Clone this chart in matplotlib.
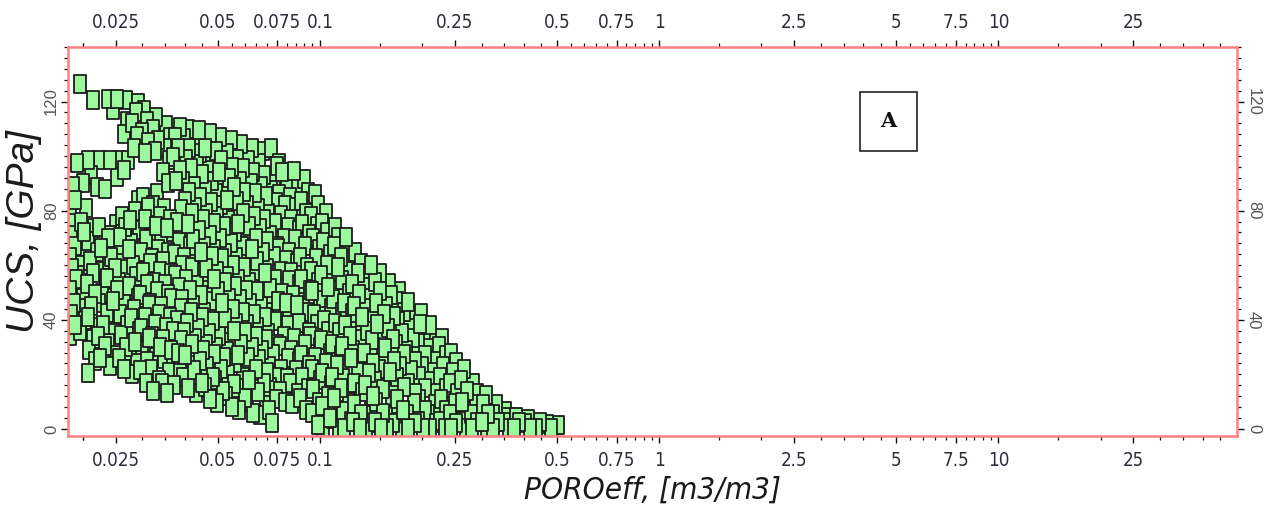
import numpy as np
import matplotlib
matplotlib.use("Agg")
import matplotlib.pyplot as plt
from matplotlib.path import Path
from matplotlib.patches import Rectangle
from matplotlib import font_manager as fm
from matplotlib.ticker import FixedLocator, NullFormatter, MultipleLocator

# ---------------- data ----------------
poro_left = [
    0.0184, 0.0190, 0.0185, 0.0188, 0.0183, 0.0191, 0.0186, 0.0184, 0.0190, 0.0185, 0.0188, 0.0184, 0.0190, 0.0187, 0.0193,
    0.0197, 0.0203, 0.0195, 0.0201, 0.0206, 0.0194, 0.0199, 0.0205, 0.0196, 0.0202, 0.0198, 0.0204, 0.0200, 0.0208, 0.0197,
    0.0207, 0.0218, 0.0209, 0.0214, 0.0220, 0.0207, 0.0212, 0.0218, 0.0206, 0.0215, 0.0210, 0.0220, 0.0208, 0.0216, 0.0221, 0.0211, 0.0225, 0.0214,
    0.0225, 0.0233, 0.0222, 0.0230, 0.0236, 0.0223, 0.0228, 0.0235, 0.0221, 0.0231, 0.0226, 0.0237, 0.0224, 0.0232, 0.0240, 0.0237,
    0.0241, 0.0251, 0.0238, 0.0247, 0.0254, 0.0239, 0.0245, 0.0252, 0.0236, 0.0249, 0.0243, 0.0255, 0.0240, 0.0250, 0.0252, 0.0256, 0.0246, 0.0253,
    0.0265, 0.0256, 0.0268, 0.0260, 0.0271, 0.0257, 0.0264, 0.0272, 0.0255, 0.0267, 0.0261, 0.0273, 0.0258, 0.0266, 0.0262, 0.0265, 0.0272, 0.0265, 0.0270, 0.0268,
    0.0279, 0.0290, 0.0276, 0.0286, 0.0293, 0.0277, 0.0283, 0.0291, 0.0274, 0.0288, 0.0281, 0.0294, 0.0278, 0.0289, 0.0275, 0.0285, 0.0292, 0.0284, 0.0290, 0.0280, 0.0288, 0.0292,
    0.0307, 0.0296, 0.0310, 0.0300, 0.0314, 0.0297, 0.0305, 0.0313, 0.0295, 0.0309, 0.0302, 0.0315, 0.0298, 0.0308, 0.0294, 0.0306, 0.0312, 0.0301, 0.0305, 0.0312, 0.0300, 0.0309, 0.0303,
    0.0322, 0.0335, 0.0318, 0.0330, 0.0338, 0.0320, 0.0327, 0.0336, 0.0316, 0.0332, 0.0324, 0.0339, 0.0321, 0.0333, 0.0317, 0.0329, 0.0337, 0.0323, 0.0331, 0.0326, 0.0334, 0.0322, 0.0330,
    0.0355, 0.0343, 0.0360, 0.0348, 0.0363, 0.0345, 0.0353, 0.0362, 0.0341, 0.0357, 0.0349, 0.0364, 0.0346, 0.0358, 0.0340, 0.0354, 0.0361, 0.0347, 0.0356, 0.0344, 0.0359, 0.0350, 0.0362, 0.0352,
    0.0372, 0.0388, 0.0368, 0.0382, 0.0391, 0.0370, 0.0379, 0.0389, 0.0365, 0.0384, 0.0375, 0.0392, 0.0371, 0.0385, 0.0366, 0.0380, 0.0390, 0.0376, 0.0386, 0.0369, 0.0383, 0.0374, 0.0388,
    0.0410, 0.0396, 0.0416, 0.0401, 0.0420, 0.0398, 0.0407, 0.0418, 0.0393, 0.0413, 0.0403, 0.0421, 0.0399, 0.0414, 0.0392, 0.0408, 0.0419, 0.0400, 0.0412, 0.0395, 0.0417, 0.0404, 0.0411, 0.0397, 0.0409,
]
ucs_left = [
    34, 38, 42, 46, 51, 55, 59, 63, 67, 71, 75.5, 80, 84, 89, 97.5,
    36, 40, 44.5, 48, 52, 56.5, 60, 64, 68, 72, 76, 81, 90, 98.5, 126.5,
    20.5, 25, 29, 33, 37.5, 41, 45, 49.5, 53, 57, 61.5, 65, 69, 73.5, 88.5, 93, 98.5, 120.5,
    26, 30.5, 34, 38, 42.5, 46, 50, 54.5, 58, 62, 66.5, 70, 74, 88, 98.5, 121,
    23, 27, 31.5, 35, 39, 43.5, 47, 51, 55.5, 59, 63, 67.5, 71, 75, 92.5, 98.5, 117, 121,
    22, 26, 30, 34.5, 38, 42, 46.5, 50, 54, 58.5, 62, 66, 70.5, 74, 78, 95, 98.5, 108, 113, 120.5,
    20, 24, 28.5, 32, 36, 40.5, 44, 48, 52.5, 56, 60, 64.5, 68, 72, 76.5, 80, 84, 103, 107.5, 112, 116, 119.5,
    17, 21.5, 25, 29, 33.5, 37, 41, 45.5, 49, 53, 57.5, 61, 65, 69.5, 73, 77, 81.5, 85, 101, 105, 109, 113, 117,
    14, 18, 22, 26.5, 30, 34, 38.5, 42, 46, 50.5, 54, 58, 62.5, 66, 70, 74.5, 78, 82, 86.5, 102, 106, 110, 114.5,
    13, 17, 21, 25.5, 29, 33, 37.5, 41, 45, 49.5, 53, 57, 61.5, 65, 69, 73.5, 77, 81, 90, 94, 98.5, 103, 107, 111.5,
    16, 20.5, 24, 28, 32.5, 36, 40, 44.5, 48, 52, 56.5, 60, 64, 68.5, 72, 76, 80.5, 91, 95, 99.5, 103, 107, 110.5,
    15, 19, 23.5, 27, 31, 35.5, 39, 43, 47.5, 51, 55, 59.5, 63, 67, 71.5, 75, 79, 83.5, 87, 91, 95.5, 99, 103, 106.5, 110,
]

poro_mid = [
    0.0431, 0.0449, 0.0426, 0.0442, 0.0452, 0.0428, 0.0438, 0.0450, 0.0423, 0.0445, 0.0434, 0.0454, 0.0429, 0.0446, 0.0422, 0.0440, 0.0451, 0.0430, 0.0444, 0.0425, 0.0448, 0.0435, 0.0443, 0.0427, 0.0440,
    0.0476, 0.0458, 0.0483, 0.0465, 0.0487, 0.0461, 0.0472, 0.0485, 0.0456, 0.0479, 0.0467, 0.0489, 0.0462, 0.0480, 0.0455, 0.0474, 0.0486, 0.0463, 0.0478, 0.0459, 0.0482, 0.0469, 0.0477, 0.0460, 0.0473,
    0.0498, 0.0518, 0.0492, 0.0511, 0.0523, 0.0495, 0.0506, 0.0520, 0.0490, 0.0514, 0.0502, 0.0525, 0.0496, 0.0515, 0.0489, 0.0509, 0.0521, 0.0497, 0.0513, 0.0493, 0.0517, 0.0503, 0.0512, 0.0494, 0.0507,
    0.0550, 0.0530, 0.0557, 0.0537, 0.0562, 0.0533, 0.0545, 0.0560, 0.0527, 0.0553, 0.0540, 0.0564, 0.0534, 0.0554, 0.0526, 0.0548, 0.0561, 0.0535, 0.0552, 0.0531, 0.0558, 0.0541, 0.0551, 0.0532, 0.0546,
    0.0576, 0.0600, 0.0570, 0.0592, 0.0605, 0.0572, 0.0585, 0.0602, 0.0566, 0.0595, 0.0580, 0.0607, 0.0574, 0.0596, 0.0565, 0.0589, 0.0603, 0.0575, 0.0593, 0.0569, 0.0599, 0.0582, 0.0594, 0.0571, 0.0586,
    0.0636, 0.0612, 0.0644, 0.0620, 0.0650, 0.0615, 0.0630, 0.0647, 0.0608, 0.0640, 0.0623, 0.0652, 0.0617, 0.0641, 0.0607, 0.0633, 0.0648, 0.0618, 0.0638, 0.0612, 0.0645, 0.0625, 0.0637, 0.0614, 0.0629,
    0.0665, 0.0693, 0.0657, 0.0683, 0.0698, 0.0660, 0.0676, 0.0695, 0.0653, 0.0687, 0.0669, 0.0701, 0.0663, 0.0688, 0.0652, 0.0680, 0.0697, 0.0664, 0.0685, 0.0658, 0.0694, 0.0672, 0.0686, 0.0661, 0.0679,
    0.0722, 0.0708, 0.0745, 0.0715, 0.0750, 0.0707, 0.0727, 0.0748, 0.0702, 0.0738, 0.0718, 0.0753, 0.0711, 0.0740, 0.0700, 0.0731, 0.0749, 0.0713, 0.0736, 0.0705, 0.0744, 0.0720, 0.0735, 0.0747, 0.0717,
    0.0789, 0.0761, 0.0800, 0.0770, 0.0806, 0.0764, 0.0782, 0.0803, 0.0756, 0.0793, 0.0774, 0.0809, 0.0766, 0.0794, 0.0754, 0.0785, 0.0804, 0.0768, 0.0791, 0.0760, 0.0798, 0.0776, 0.0757,
    0.0826, 0.0865, 0.0817, 0.0853, 0.0870, 0.0820, 0.0840, 0.0866, 0.0812, 0.0856, 0.0832, 0.0871, 0.0823, 0.0855, 0.0810, 0.0845, 0.0868, 0.0824, 0.0851, 0.0816, 0.0860, 0.0838,
    0.0910, 0.0876, 0.0925, 0.0884, 0.0932, 0.0879, 0.0903, 0.0928, 0.0870, 0.0915, 0.0891, 0.0935, 0.0881, 0.0917, 0.0872, 0.0906, 0.0930, 0.0886, 0.0913, 0.0877, 0.0921, 0.0895,
    0.0985, 0.0950, 0.0995, 0.0957, 0.1000, 0.0945, 0.0970, 0.0998, 0.0938, 0.0984, 0.0960, 0.1003, 0.0948, 0.0987, 0.0940, 0.0975, 0.0996, 0.0953, 0.0981, 0.0943, 0.0990, 0.0966,
]
ucs_mid = [
    13, 17, 21.5, 25, 29, 33.5, 37, 41, 45.5, 49, 53, 57.5, 61, 65, 69.5, 73, 77, 81.5, 85, 89, 93.5, 97, 101, 105, 109.5,
    11, 15.5, 19, 23, 27.5, 31, 35, 39.5, 43, 47, 51.5, 55, 59, 63.5, 67, 71, 75.5, 79, 83, 87.5, 91, 95, 99.5, 103, 108.5,
    9.5, 14, 18, 22, 26.5, 30, 34, 38.5, 42, 46, 50.5, 54, 58, 62.5, 66, 70, 74.5, 78, 82, 86.5, 90, 94, 98.5, 102, 107,
    8, 12, 16.5, 20, 24, 28.5, 32, 36, 40.5, 44, 48, 52.5, 56, 60, 64.5, 68, 72, 76.5, 80, 84, 88.5, 92, 96, 101, 106,
    7, 11.5, 15, 19, 23.5, 27, 31, 35.5, 39, 43, 47.5, 51, 55, 59.5, 63, 67, 71.5, 75, 79, 83.5, 87, 91, 95.5, 99, 104.5,
    6, 10, 14.5, 18, 22, 26.5, 30, 34, 38.5, 42, 46, 50.5, 54, 58, 62.5, 66, 70, 74.5, 78, 82, 86.5, 90, 94, 98.5, 103,
    5, 9, 13.5, 17, 21, 25.5, 29, 33, 37.5, 41, 45, 49.5, 53, 57, 61.5, 65, 69, 73.5, 77, 81, 85.5, 89, 93, 97.5, 102,
    2, 7, 11, 15.5, 19, 23, 27.5, 31, 35, 39.5, 43, 47, 51.5, 55, 59, 63.5, 67, 71, 75.5, 79, 83, 87.5, 91, 96.5, 103,
    10, 14, 18.5, 22, 26, 30.5, 34, 38, 42.5, 46, 50, 54.5, 58, 62, 66.5, 70, 74, 78.5, 82, 86, 90.5, 94, 97.5,
    9, 13, 17, 21.5, 25, 29, 33.5, 37, 41, 45.5, 49, 53, 57.5, 61, 65, 69.5, 73, 77, 81.5, 85, 89, 94.5,
    7, 11.5, 15, 19, 23.5, 27, 31, 35.5, 39, 43, 47.5, 51, 55, 59.5, 63, 67, 71.5, 75, 79, 83.5, 87, 91.5,
    1.5, 6, 10, 14.5, 18, 22, 26.5, 30, 34, 38.5, 42, 46, 50.5, 54, 58, 62.5, 66, 70, 74.5, 78, 82, 86,
]

poro_right = [
    0.1025, 0.1068, 0.1012, 0.1055, 0.1075, 0.1018, 0.1042, 0.1072, 0.1008, 0.1060, 0.1032, 0.1078, 0.1020, 0.1058, 0.1005, 0.1048, 0.1070, 0.1022, 0.1052, 0.1015, 0.1045,
    0.1140, 0.1092, 0.1150, 0.1100, 0.1158, 0.1088, 0.1125, 0.1155, 0.1085, 0.1142, 0.1108, 0.1160, 0.1095, 0.1135, 0.1083, 0.1128, 0.1152, 0.1098, 0.1132, 0.1105,
    0.1180, 0.1235, 0.1168, 0.1222, 0.1240, 0.1172, 0.1205, 0.1238, 0.1162, 0.1226, 0.1188, 0.1243, 0.1175, 0.1215, 0.1160, 0.1208, 0.1232, 0.1178, 0.1195,
    0.1310, 0.1255, 0.1325, 0.1265, 0.1332, 0.1258, 0.1295, 0.1328, 0.1250, 0.1315, 0.1275, 0.1335, 0.1262, 0.1305, 0.1248, 0.1298, 0.1322, 0.1270,
    0.1365, 0.1430, 0.1355, 0.1418, 0.1438, 0.1360, 0.1395, 0.1432, 0.1348, 0.1420, 0.1378, 0.1440, 0.1358, 0.1405, 0.1345, 0.1398, 0.1415,
    0.1515, 0.1455, 0.1532, 0.1465, 0.1540, 0.1458, 0.1498, 0.1535, 0.1448, 0.1520, 0.1475, 0.1543, 0.1462, 0.1508, 0.1452, 0.1500,
    0.1575, 0.1648, 0.1563, 0.1632, 0.1655, 0.1568, 0.1605, 0.1650, 0.1555, 0.1638, 0.1590, 0.1658, 0.1572, 0.1618, 0.1595,
    0.1745, 0.1680, 0.1762, 0.1690, 0.1770, 0.1683, 0.1725, 0.1765, 0.1672, 0.1750, 0.1700, 0.1775, 0.1688, 0.1712,
    0.1820, 0.1905, 0.1808, 0.1890, 0.1912, 0.1815, 0.1858, 0.1908, 0.1800, 0.1885, 0.1835, 0.1895, 0.1825,
    0.2020, 0.1950, 0.2040, 0.1960, 0.2048, 0.1955, 0.1995, 0.2042, 0.1942, 0.2025, 0.1972, 0.1985,
    0.2105, 0.2195, 0.2090, 0.2180, 0.2200, 0.2098, 0.2145, 0.2190, 0.2085, 0.2170, 0.2110,
    0.2335, 0.2255, 0.2350, 0.2268, 0.2360, 0.2262, 0.2305, 0.2355, 0.2250, 0.2290,
    0.2430, 0.2525, 0.2415, 0.2505, 0.2535, 0.2420, 0.2470, 0.2520, 0.2440,
    0.2690, 0.2605, 0.2710, 0.2620, 0.2715, 0.2612, 0.2655,
    0.2805, 0.2900, 0.2790, 0.2885, 0.2910, 0.2820,
    0.3110, 0.3010, 0.3120, 0.3025, 0.3080,
    0.3240, 0.3345, 0.3230, 0.3300,
    0.3600, 0.3485, 0.3590, 0.3520,
    0.3740, 0.3865, 0.3790,
    0.4150, 0.4030, 0.4120,
    0.4330, 0.4470,
    0.4800, 0.4660,
    0.5050,
]
ucs_right = [
    0.5, 4, 8.5, 12, 16, 20.5, 24, 28, 32.5, 36, 40, 44.5, 48, 52, 56.5, 60, 64, 68.5, 72, 75.5, 79,
    0.5, 3.5, 7, 11.5, 15, 19, 23.5, 27, 31, 35.5, 39, 43, 47.5, 51, 55, 59.5, 63, 67, 70.5, 74,
    0.5, 3, 6.5, 10, 14, 18.5, 22, 26, 30.5, 34, 38, 42.5, 46, 50, 54.5, 58, 62, 66.5, 70.5,
    0.5, 2.5, 5.5, 9, 13.5, 17, 21, 25.5, 29, 33, 37.5, 41, 45, 49.5, 53, 57, 61, 65,
    0.5, 2, 5, 8.5, 12, 16, 20.5, 24, 28, 32.5, 36, 40, 44.5, 48, 52, 56, 60,
    0.5, 2.5, 6, 10, 14.5, 18, 22, 26.5, 30, 34, 38.5, 42, 46, 50.5, 54, 57,
    0.5, 2, 5, 9, 13, 17.5, 21, 25, 29.5, 33, 37, 41.5, 45, 49, 53.5,
    0.5, 3, 7, 11, 15.5, 19, 23, 27.5, 31, 35, 39.5, 43, 47, 50.5,
    0.5, 2, 5.5, 9.5, 13, 17, 21.5, 25, 29, 33.5, 37, 41, 46.5,
    0.5, 3, 7, 11, 15, 19.5, 23, 27, 31.5, 35, 38.5, 42.5,
    0.5, 2, 5.5, 9, 13, 17.5, 21, 25, 29.5, 33, 38,
    0.5, 3, 7, 11, 15, 19, 23, 27, 30.5, 33.5,
    0.5, 2, 5.5, 9.5, 13, 17, 21, 24.5, 28,
    0.5, 3, 6.5, 10, 14, 18, 22,
    0.5, 2.5, 5.5, 9, 13, 17,
    0.5, 2.5, 5.5, 9, 12.5,
    0.5, 2.5, 5.5, 9,
    0.5, 2.5, 4.5, 6.5,
    0.5, 2.5, 4.5,
    0.5, 2, 3.5,
    0.5, 2.5,
    0.5, 1.8,
    1.3,
]

x_major = [0.025, 0.05, 0.075, 0.1, 0.25, 0.5, 0.75, 1, 2.5, 5, 7.5, 10, 25]
x_major_labels = ["0.025", "0.05", "0.075", "0.1", "0.25", "0.5", "0.75", "1",
                  "2.5", "5", "7.5", "10", "25"]
x_minor_factors = [1.5, 2, 3, 3.5, 4, 4.5, 5.5, 6, 6.5, 7, 8, 8.5, 9, 9.5]
x_decades = [0.01, 0.1, 1, 10]
y_major = [0, 40, 80, 120]
y_major_labels = ["0", "40", "80", "120"]

# ---------------- fonts ----------------
names = {f.name for f in fm.fontManager.ttflist}
if "Liberation Sans Narrow" in names:
    narrow = dict(family="Liberation Sans Narrow")
else:
    narrow = dict(family="DejaVu Sans", stretch="condensed")
regular = "Liberation Sans" if "Liberation Sans" in names else "DejaVu Sans"

# ---------------- figure ----------------
fig = plt.figure(figsize=(12.71, 5.19), dpi=100)
ax = fig.add_axes([68 / 1271, 1 - 436 / 519, (1237 - 68) / 1271, (436 - 47) / 519])

xs = np.array(poro_left + poro_mid + poro_right, dtype=float)
ys = np.array(ucs_left + ucs_mid + ucs_right, dtype=float)
n = len(xs)
order = (np.arange(n) * 7919) % n  # drawing order only

rect_marker = Path([(-0.36, -0.5), (0.36, -0.5), (0.36, 0.5), (-0.36, 0.5), (0, 0)],
                   [Path.MOVETO, Path.LINETO, Path.LINETO, Path.LINETO, Path.CLOSEPOLY])
ax.scatter(xs[order], ys[order], s=12.6 ** 2, marker=rect_marker,
           facecolor="#9cf89c", edgecolor="#1c1c1c", linewidths=1.3, zorder=2)

ax.set_xscale("log")
ax.set_xlim(0.0181, 50.5)
ax.set_ylim(-2.6, 140)

# x ticks
ax.xaxis.set_major_locator(FixedLocator(x_major))
ax.set_xticklabels(x_major_labels)
minor = [d * f for d in x_decades for f in x_minor_factors]
minor = [m for m in minor if 0.0181 < m < 50.5 and all(abs(m - M) > 1e-9 for M in x_major)]
ax.xaxis.set_minor_locator(FixedLocator(minor + [0.02]))
ax.xaxis.set_minor_formatter(NullFormatter())

# y ticks
ax.yaxis.set_major_locator(FixedLocator(y_major))
ax.set_yticklabels(y_major_labels)
ax.yaxis.set_minor_locator(MultipleLocator(4))

ax.tick_params(axis="both", which="both", direction="out", colors="#111111")
ax.tick_params(axis="x", which="both", top=True, bottom=True, labeltop=True, labelbottom=True)
ax.tick_params(axis="y", which="both", left=True, right=True, labelleft=True, labelright=True)
ax.tick_params(which="major", length=5, width=1.0)
ax.tick_params(which="minor", length=3, width=0.9)
ax.tick_params(axis="x", which="major", pad=6, labelsize=13.5, labelcolor="#2d2d3a")
ax.tick_params(axis="y", which="major", pad=1.5, labelsize=12, labelcolor="#555555")

for t in ax.xaxis.get_major_ticks():
    for lab in (t.label1, t.label2):
        lab.set_family(narrow["family"])
        if "stretch" in narrow:
            lab.set_stretch(narrow["stretch"])
for t in ax.yaxis.get_major_ticks():
    t.label1.set_rotation(90)
    t.label1.set_va("center")
    t.label2.set_rotation(-90)
    t.label2.set_va("center")
    t.label1.set_family(regular)
    t.label2.set_family(regular)

for sp in ax.spines.values():
    sp.set_color("#ff8080")
    sp.set_linewidth(1.8)

# axis titles
fig.text(652 / 1271, 1 - 490 / 519, "POROeff, [m3/m3]", ha="center", va="center",
         fontsize=22.5, style="italic", color="#1a1a1a", **narrow)
fig.text(24 / 1271, 1 - 232 / 519, "UCS, [GPa]", ha="center", va="center",
         rotation=90, fontsize=28, style="italic", color="#1a1a1a", family=regular)

# boxed "A"
fig.add_artist(Rectangle((860 / 1271, 1 - 151 / 519), 57 / 1271, 59 / 519,
                         transform=fig.transFigure, fill=False, ec="#222222", lw=1.2))
fig.text(888 / 1271, 1 - 121 / 519, "A", ha="center", va="center", fontsize=15,
         fontweight="bold", family="DejaVu Serif", color="#111111")

fig.savefig("out.png", dpi=100)
